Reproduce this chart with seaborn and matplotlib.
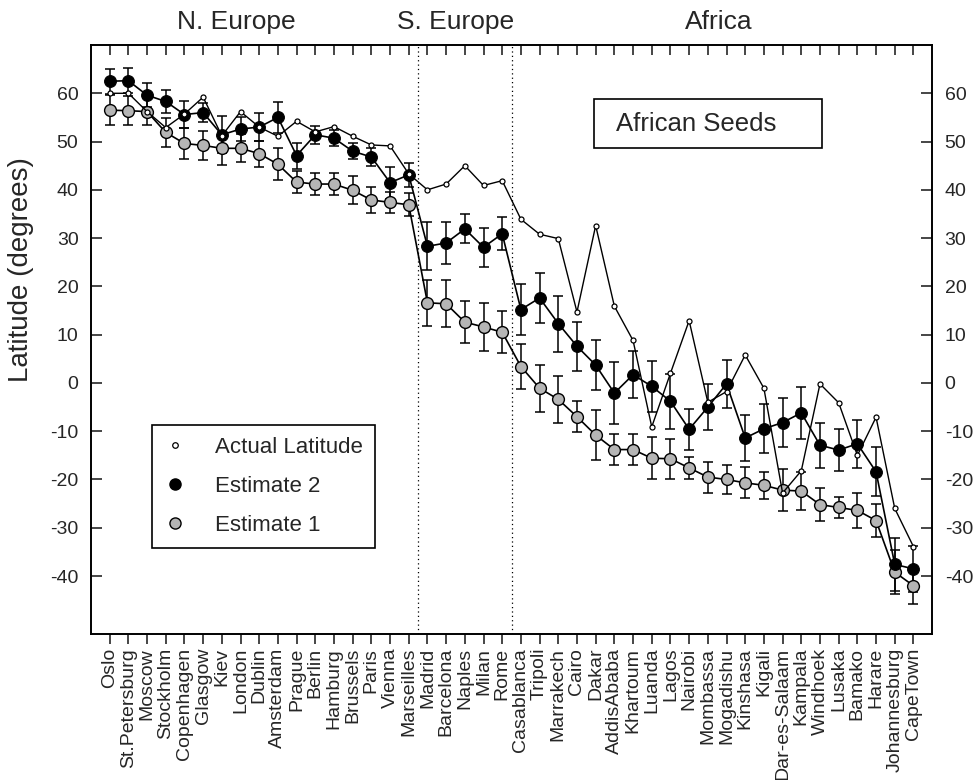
import numpy as np
import pandas as pd
import matplotlib
matplotlib.use("Agg")
import matplotlib.pyplot as plt
from matplotlib.lines import Line2D
from matplotlib.patches import Rectangle
import matplotlib.transforms as mtransforms
import seaborn as sns

cities = ["Oslo", "St.Petersburg", "Moscow", "Stockholm", "Copenhagen", "Glasgow", "Kiev",
          "London", "Dublin", "Amsterdam", "Prague", "Berlin", "Hamburg", "Brussels", "Paris",
          "Vienna", "Marseilles", "Madrid", "Barcelona", "Naples", "Milan", "Rome",
          "Casablanca", "Tripoli", "Marrakech", "Cairo", "Dakar", "AddisAbaba", "Khartoum",
          "Luanda", "Lagos", "Nairobi", "Mombassa", "Mogadishu", "Kinshasa", "Kigali",
          "Dar-es-Salaam", "Kampala", "Windhoek", "Lusaka", "Bamako", "Harare",
          "Johannesburg", "CapeTown"]

actual = [60.0, 60.0, 56.2, 52.9, 55.7, 59.2, 51.2, 56.2, 53.0, 51.1, 54.2, 52.0, 53.1, 51.1,
          49.3, 49.1, 43.3, 40.0, 41.2, 45.0, 40.9, 41.9, 33.9, 30.8, 29.9, 14.7, 32.6, 15.9,
          8.8, -9.1, 2.0, 12.9, -4.0, -1.8, 5.8, -1.1, -22.8, -18.2, -0.2, -4.1, -15.0, -7.1,
          -26.0, -33.9]

est2 = [62.5, 62.6, 59.6, 58.3, 55.6, 56.0, 51.4, 52.6, 53.0, 55.0, 47.1, 51.4, 50.7, 48.0,
        46.8, 41.5, 43.1, 28.3, 29.0, 31.9, 28.1, 30.9, 15.2, 17.6, 12.3, 7.6, 3.7, -2.1, 1.7,
        -0.7, -3.8, -9.6, -5.0, -0.2, -11.4, -9.5, -8.2, -6.2, -12.9, -13.9, -12.6, -18.4,
        -37.6, -38.5]
est2_err = [2.6, 2.6, 2.5, 2.4, 2.8, 1.9, 3.8, 2.4, 2.9, 3.2, 2.7, 1.9, 1.6, 1.6, 1.9, 3.3,
            2.5, 5.0, 4.4, 3.0, 4.0, 3.4, 5.2, 5.1, 5.8, 5.1, 5.2, 6.4, 4.9, 5.3, 5.7, 4.2,
            4.7, 5.0, 4.7, 5.1, 5.0, 5.4, 4.7, 4.3, 5.0, 5.1, 5.5, 4.7]

est1 = [56.5, 56.4, 56.2, 51.9, 49.6, 49.2, 48.6, 48.6, 47.5, 45.3, 41.6, 41.2, 41.2, 39.9,
        37.9, 37.4, 36.9, 16.6, 16.4, 12.6, 11.6, 10.5, 3.4, -1.1, -3.4, -7.0, -10.8, -13.8,
        -13.8, -15.6, -15.7, -17.6, -19.5, -20.0, -20.7, -21.2, -22.2, -22.4, -25.2, -25.8,
        -26.4, -28.5, -39.2, -42.0]
est1_err = [3.1, 3.0, 2.8, 3.0, 3.2, 3.0, 3.4, 2.9, 2.7, 3.3, 2.3, 2.3, 2.3, 2.9, 2.7, 2.1,
            2.4, 4.8, 4.9, 4.4, 5.0, 4.4, 4.7, 4.9, 4.8, 3.2, 5.1, 3.2, 3.2, 4.3, 4.1, 2.3,
            3.2, 3.0, 3.2, 2.8, 4.3, 3.9, 3.4, 2.2, 3.6, 3.4, 4.6, 3.7]

regions = ["N. Europe", "S. Europe", "Africa"]
region_sizes = [17, 5, 22]
yticks = [-40, -30, -20, -10, 0, 10, 20, 30, 40, 50, 60]

sns.set_style("ticks")
plt.rcParams["font.family"] = ["Liberation Sans", "DejaVu Sans"]

df = pd.DataFrame({"city": cities, "pos": np.arange(len(cities)),
                   "actual": actual, "est2": est2, "est2_err": est2_err,
                   "est1": est1, "est1_err": est1_err})

fig = plt.figure(figsize=(9.73, 7.80), dpi=100)
ax = fig.add_axes([0.0935, 0.1872, 0.8645, 0.7551])

gray = "#b5b5b5"
# error bars
ax.errorbar(df["pos"], df["est1"], yerr=df["est1_err"], fmt="none", ecolor="black",
            elinewidth=1.1, capsize=3.8, capthick=1.1, zorder=2)
ax.errorbar(df["pos"], df["est2"], yerr=df["est2_err"], fmt="none", ecolor="black",
            elinewidth=1.1, capsize=3.8, capthick=1.1, zorder=2)

sns.lineplot(data=df, x="pos", y="est1", ax=ax, color="black", lw=1.2, marker="o",
             markersize=8.5, markerfacecolor=gray, markeredgecolor="black",
             markeredgewidth=1.0, zorder=3)
sns.lineplot(data=df, x="pos", y="est2", ax=ax, color="black", lw=1.2, marker="o",
             markersize=8.5, markerfacecolor="black", markeredgecolor="black", zorder=4)
sns.lineplot(data=df, x="pos", y="actual", ax=ax, color="black", lw=1.0, marker="o",
             markersize=3.6, markerfacecolor="white", markeredgecolor="black",
             markeredgewidth=0.9, zorder=5)

# region separators and names
bounds = np.cumsum(region_sizes)
for b in bounds[:-1]:
    ax.axvline(b - 0.5, color="black", lw=0.9, ls=(0, (1, 2.5)), zorder=1)
trans = mtransforms.blended_transform_factory(ax.transData, ax.transAxes)
region_x = [6.8, 18.5, 32.6]
for name, rx in zip(regions, region_x):
    ax.text(rx, 1.039, name, transform=trans, ha="center", va="center", fontsize=19)

ax.set_xlim(-1, len(cities))
ax.set_ylim(-52, 70)
ax.set_xticks(df["pos"])
ax.set_xticklabels(cities, rotation=90, fontsize=14)
ax.set_yticks(yticks)
ax.set_yticklabels([str(v) for v in yticks], fontsize=14)
ax.set_xlabel("")
ax.set_ylabel("Latitude (degrees)", fontsize=20)
ax.yaxis.set_label_coords(-0.068, 0.618)

ax.tick_params(axis="y", which="both", direction="in", left=True, right=True,
               labelleft=True, labelright=True, length=8, width=1.2, pad=9)
ax.tick_params(axis="x", which="both", bottom=True, top=False, direction="out",
               length=7, width=1.2, pad=3)
sec = ax.secondary_xaxis("top")
sec.set_xticks(df["pos"])
sec.tick_params(axis="x", direction="in", length=7, width=1.2, labeltop=False)
for sp in sec.spines.values():
    sp.set_visible(False)
for sp in ax.spines.values():
    sp.set_visible(True)
    sp.set_linewidth(1.4)
    sp.set_color("black")

# legend
handles = [
    Line2D([], [], ls="none", marker="o", markersize=4.0, markerfacecolor="white",
           markeredgecolor="black", markeredgewidth=0.9),
    Line2D([], [], ls="none", marker="o", markersize=8.0, markerfacecolor="black",
           markeredgecolor="black"),
    Line2D([], [], ls="none", marker="o", markersize=8.0, markerfacecolor=gray,
           markeredgecolor="black", markeredgewidth=1.0),
]
leg = ax.legend(handles, ["Actual Latitude", "Estimate 2", "Estimate 1"],
                loc="upper left", bbox_to_anchor=(0.0725, 0.355), fontsize=16,
                frameon=True, fancybox=False, edgecolor="black", framealpha=1,
                handlelength=1.0, handletextpad=1.3, borderpad=0.55, labelspacing=0.8,
                borderaxespad=0)
leg.get_frame().set_linewidth(1.2)

# "African Seeds" box
ax.add_patch(Rectangle((0.598, 0.825), 0.271, 0.083, transform=ax.transAxes,
                       fill=False, edgecolor="black", lw=1.2, zorder=6))
ax.text(0.72, 0.866, "African Seeds", transform=ax.transAxes, ha="center",
        va="center", fontsize=18.5, zorder=7)

fig.savefig("out.png", dpi=100)
